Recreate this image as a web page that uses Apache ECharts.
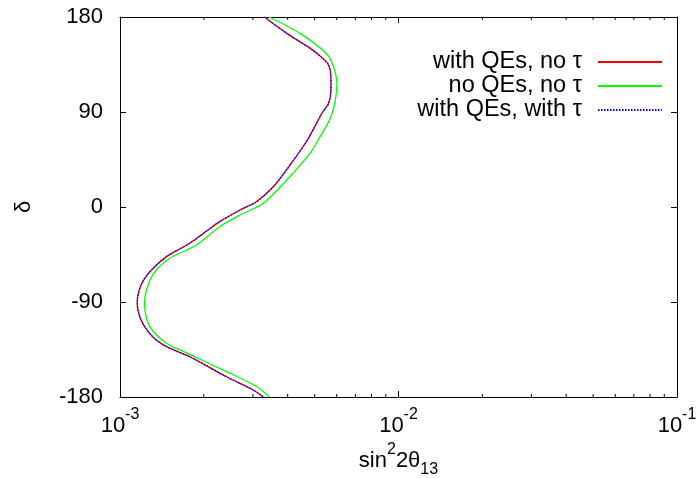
<!DOCTYPE html>
<html>
<head>
<meta charset="utf-8">
<script src="https://cdn.jsdelivr.net/npm/echarts@6/dist/echarts.min.js"></script>
<style>html,body{margin:0;padding:0;background:#fff}#c{width:699px;height:478px}</style>
</head>
<body>
<div id="c"></div>
<script>
// [sin^2 2theta13, delta]
const withQEsNoTau = [
  [3.30e-3, 180], [3.97e-3, 164.5], [4.82e-3, 150.3], [5.35e-3, 140.8], [5.61e-3, 134.5],
  [5.72e-3, 123.4], [5.72e-3, 110.8], [5.61e-3, 98.2], [5.31e-3, 88.8],
  [4.71e-3, 63.5], [4.08e-3, 39.8], [3.55e-3, 19.2], [3.09e-3, 5.0], [2.70e-3, -2.8],
  [2.28e-3, -13.9], [2.07e-3, -21.8], [1.78e-3, -34.4], [1.47e-3, -47],
  [1.28e-3, -61.3], [1.19e-3, -73.9], [1.153e-3, -90.3], [1.19e-3, -107], [1.31e-3, -122.9],
  [1.47e-3, -132.3], [1.78e-3, -141.8], [2.41e-3, -160.8], [3.01e-3, -173.4], [3.27e-3, -180]
];
const noQEsNoTau = [
  [3.43e-3, 180], [4.43e-3, 164.5], [5.53e-3, 145], [5.84e-3, 132.9], [6.01e-3, 117.1],
  [5.93e-3, 101.3], [5.69e-3, 84], [5.23e-3, 66.6], [4.81e-3, 50.8], [3.97e-3, 25.6],
  [3.27e-3, 3.5], [2.70e-3, -7.6], [2.28e-3, -18.7], [1.88e-3, -36], [1.51e-3, -48.6],
  [1.31e-3, -64.4], [1.225e-3, -90.3], [1.28e-3, -113.3], [1.47e-3, -129], [1.75e-3, -138.6],
  [2.41e-3, -156], [3.09e-3, -170], [3.44e-3, -180]
];
const withQEsWithTau = [
  [3.30e-3, 180], [3.97e-3, 164.5], [4.82e-3, 150.3], [5.35e-3, 140.8], [5.61e-3, 134.5],
  [5.72e-3, 123.4], [5.72e-3, 110.8], [5.61e-3, 98.2], [5.31e-3, 88.8],
  [4.71e-3, 63.5], [4.08e-3, 39.8], [3.55e-3, 19.2], [3.09e-3, 5.0], [2.70e-3, -2.8],
  [2.28e-3, -13.9], [2.07e-3, -21.8], [1.78e-3, -34.4], [1.47e-3, -47],
  [1.28e-3, -61.3], [1.19e-3, -73.9], [1.153e-3, -90.3], [1.19e-3, -107], [1.31e-3, -122.9],
  [1.47e-3, -132.3], [1.78e-3, -141.8], [2.41e-3, -160.8], [3.01e-3, -173.4], [3.27e-3, -180]
];
const seriesNames = ['with QEs, no \u03c4', 'no QEs, no \u03c4', 'with QEs, with \u03c4'];
const minorTickValues = [2e-3,3e-3,4e-3,5e-3,6e-3,7e-3,8e-3,9e-3,2e-2,3e-2,4e-2,5e-2,6e-2,7e-2,8e-2,9e-2];
const xMin = 1e-3, xMax = 1e-1;
const yMin = -180, yMax = 180, yStep = 90;

const FONT = "'Liberation Sans', Arial, sans-serif";
const chart = echarts.init(document.getElementById('c'), null, {renderer: 'canvas'});

const axisCommon = {
  axisLine: {show: true, onZero: false, lineStyle: {color: '#000', width: 1}},
  axisTick: {show: true, inside: true, length: 6, lineStyle: {color: '#000', width: 1}},
  splitLine: {show: false},
  minorTick: {show: false},
  nameMoveOverlap: false
};

const supRich = {
  b: {fontSize: 22, lineHeight: 24, color: '#000', fontFamily: FONT},
  s: {fontSize: 16, lineHeight: 16, padding: [0, 0, 22, 0], color: '#000', fontFamily: FONT}
};

chart.setOption({
  animation: false,
  backgroundColor: '#fff',
  grid: {left: 120, right: 22, top: 17, bottom: 81, containLabel: false, outerBoundsMode: 'none'},
  xAxis: [
    Object.assign({}, axisCommon, {
      type: 'log', logBase: 10, min: xMin, max: xMax, position: 'bottom',
      axisLabel: {
        show: true, margin: 17,
        formatter: function (v) { return '{b|10}{s|' + Math.round(Math.log10(v)) + '}'; },
        rich: supRich
      },
      name: '{m|sin}{p|2}{m|2\u03b8}{q|13}',
      nameLocation: 'middle', nameGap: 52,
      nameTextStyle: {
        rich: {
          m: {fontSize: 22, lineHeight: 24, color: '#000', fontFamily: FONT},
          p: {fontSize: 16, lineHeight: 16, padding: [0, 0, 22, 0], color: '#000', fontFamily: FONT},
          q: {fontSize: 16, lineHeight: 16, padding: [17, 0, 0, 0], color: '#000', fontFamily: FONT}
        }
      }
    }),
    Object.assign({}, axisCommon, {
      type: 'log', logBase: 10, min: xMin, max: xMax, position: 'top',
      axisLabel: {show: false}
    })
  ],
  yAxis: [
    Object.assign({}, axisCommon, {
      type: 'value', min: yMin, max: yMax, interval: yStep, position: 'left',
      axisLabel: {show: true, margin: 17, fontSize: 22, color: '#000', fontFamily: FONT},
      name: '\u03b4', nameLocation: 'middle', nameGap: 85,
      nameTextStyle: {fontSize: 22, color: '#000', fontFamily: FONT}
    }),
    Object.assign({}, axisCommon, {
      type: 'value', min: yMin, max: yMax, interval: yStep, position: 'right',
      axisLabel: {show: false}
    })
  ],
  legend: {
    orient: 'vertical', right: 36, top: 50, padding: 0, align: 'right',
    itemWidth: 64, itemHeight: 14, itemGap: 0,
    selectedMode: false,
    data: seriesNames,
    itemStyle: {opacity: 0, borderWidth: 0},
    textStyle: {fontSize: 23.5, lineHeight: 24, color: '#000', fontFamily: FONT, padding: [0, 11, 0, 0]}
  },
  series: [
    {
      name: seriesNames[0], type: 'line', data: withQEsNoTau, xAxisIndex: 0, yAxisIndex: 0,
      symbol: 'none', showSymbol: false, smooth: 0.3, z: 3,
      lineStyle: {color: '#ff0000', width: 1.3, type: 'solid'}, itemStyle: {color: '#ff0000'}
    },
    {
      name: seriesNames[1], type: 'line', data: noQEsNoTau, xAxisIndex: 0, yAxisIndex: 0,
      symbol: 'none', showSymbol: false, smooth: 0.3, z: 2,
      lineStyle: {color: '#00ff00', width: 1.3, type: 'solid'}, itemStyle: {color: '#00ff00'}
    },
    {
      name: seriesNames[2], type: 'line', data: withQEsWithTau, xAxisIndex: 0, yAxisIndex: 0,
      symbol: 'none', showSymbol: false, smooth: 0.3, z: 4,
      lineStyle: {color: '#0000ff', width: 1.3, type: [1.5, 1.5]}, itemStyle: {color: '#0000ff'}
    },
    {
      name: 'minorTicks', type: 'custom', xAxisIndex: 0, yAxisIndex: 0, silent: true, clip: false,
      data: minorTickValues.map(function (v) { return [v, 0]; }),
      renderItem: function (params, api) {
        const x = api.value(0);
        const pb = api.coord([x, yMin]);
        const pt = api.coord([x, yMax]);
        return {
          type: 'group',
          children: [
            {type: 'line', shape: {x1: pb[0], y1: pb[1], x2: pb[0], y2: pb[1] - 3}, style: {stroke: '#000', lineWidth: 1}},
            {type: 'line', shape: {x1: pt[0], y1: pt[1], x2: pt[0], y2: pt[1] + 3}, style: {stroke: '#000', lineWidth: 1}}
          ]
        };
      }
    }
  ]
});
</script>
</body>
</html>
